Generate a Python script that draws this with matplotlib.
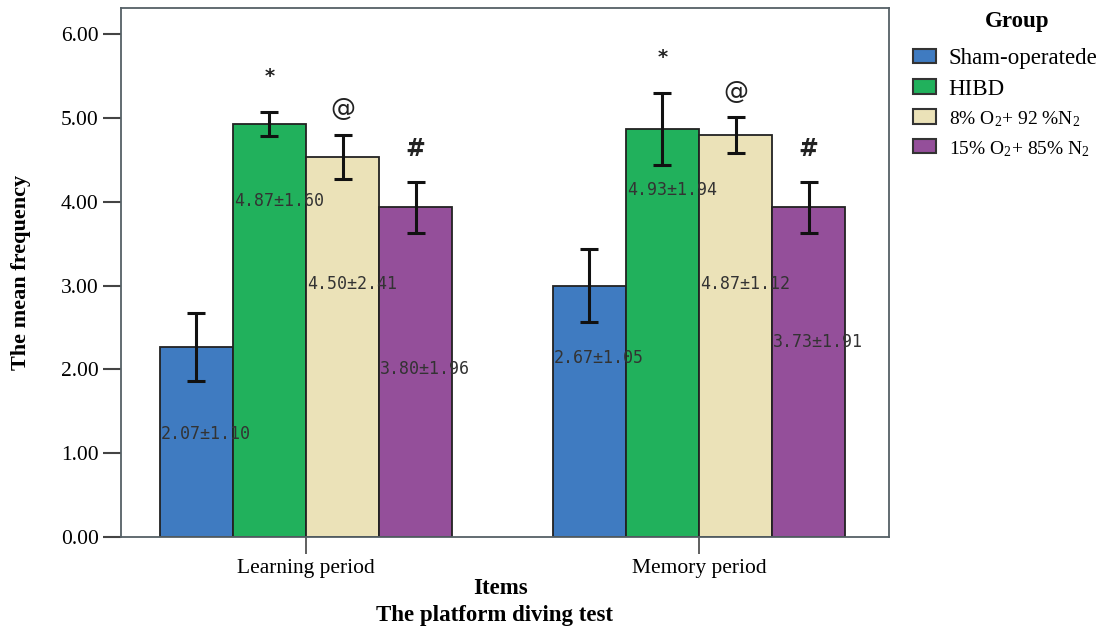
import matplotlib
matplotlib.use("Agg")
import matplotlib.pyplot as plt
from matplotlib.patches import Patch
import numpy as np

# ---- data ----
periods = ["Learning period", "Memory period"]
groups = ["Sham-operatede", "HIBD", "8% O$_2$+ 92 %N$_2$", "15% O$_2$+ 85% N$_2$"]
means = {
    "Sham-operatede": [2.27, 3.00],
    "HIBD": [4.93, 4.87],
    "8%": [4.53, 4.80],
    "15%": [3.94, 3.94],
}
err_low = {
    "Sham-operatede": [1.86, 2.57],
    "HIBD": [4.79, 4.44],
    "8%": [4.27, 4.58],
    "15%": [3.63, 3.63],
}
err_high = {
    "Sham-operatede": [2.67, 3.44],
    "HIBD": [5.07, 5.30],
    "8%": [4.80, 5.01],
    "15%": [4.24, 4.24],
}
bar_texts = {
    "Sham-operatede": ["2.07\u00b11.10", "2.67\u00b11.05"],
    "HIBD": ["4.87\u00b11.60", "4.93\u00b11.94"],
    "8%": ["4.50\u00b12.41", "4.87\u00b11.12"],
    "15%": ["3.80\u00b11.96", "3.73\u00b11.91"],
}
sig_marks = ["", "*", "@", "#"]
yticks = [0, 1, 2, 3, 4, 5, 6]

# ---- layout constants ----
keys = ["Sham-operatede", "HIBD", "8%", "15%"]
colors = ["#3f7bc1", "#21b15c", "#ebe2b8", "#944f9a"]
label_y = {
    "Sham-operatede": [1.23, 2.14],
    "HIBD": [4.01, 4.14],
    "8%": [3.02, 3.02],
    "15%": [2.00, 2.33],
}
mark_offset = [0, 27, 20, 25]  # points above error top (to glyph centre)
mark_size = [0, 14, 18, 17]
mark_weight = ['bold', 'bold', 'normal', 'bold']

plt.rcParams['mathtext.default'] = 'regular'
serif = ['Liberation Serif', 'DejaVu Serif']

fig = plt.figure(figsize=(11.03, 6.31), dpi=100)
ax = fig.add_axes([121/1103, 1-537/631, (889-121)/1103, (537-8)/631])

x = np.arange(len(periods))
w = 0.186
for i, k in enumerate(keys):
    xs = x + (i - 1.5) * w
    m = np.array(means[k])
    lo = m - np.array(err_low[k])
    hi = np.array(err_high[k]) - m
    ax.bar(xs, m, width=w, color=colors[i], edgecolor="#222222", linewidth=1.3, zorder=2)
    ax.errorbar(xs, m, yerr=[lo, hi], fmt='none', ecolor="#111111", elinewidth=2.2,
                capsize=6.5, capthick=2.2, zorder=3)
    for j in range(len(periods)):
        ax.text(xs[j] - w/2 + 0.003, label_y[k][j], bar_texts[k][j],
                family=['DejaVu Sans Mono'], fontsize=12,
                color="#333333", ha='left', va='center', zorder=4)
        if sig_marks[i]:
            ax.annotate(sig_marks[i], (xs[j], err_high[k][j]), xytext=(0, mark_offset[i]),
                        textcoords='offset points', ha='center', va='center_baseline',
                        fontsize=mark_size[i], fontweight=mark_weight[i], color="#222222",
                        family=['DejaVu Sans'])

ax.set_ylim(0, (537-8)/83.8)
ax.set_xlim((121-306)/393, (889-306)/393)
ax.set_yticks(yticks)
ax.set_yticklabels([f"{v:.2f}" for v in yticks], family=serif, fontsize=15.5)
ax.set_xticks(x)
ax.set_xticklabels(periods, family=serif, fontsize=15.5)
ax.tick_params(axis='y', length=13, width=1.5, color="#444444", pad=3)
ax.tick_params(axis='x', length=12, width=1.2, color="#444444", pad=4)
for s in ax.spines.values():
    s.set_color("#556066")
    s.set_linewidth(1.3)

ax.set_ylabel("The mean frequency", family=serif, fontsize=16, fontweight='bold')
ax.yaxis.set_label_coords((31-121)/768, 0.5)
fig.text(500/1103, 1-589/631, "Items", family=serif, fontsize=16.5,
         fontweight='bold', ha='center', va='center')
fig.text(495/1103, 1-616/631, "The platform diving test", family=serif, fontsize=16.5,
         fontweight='bold', ha='center', va='center')

handles = [Patch(facecolor=colors[i], edgecolor="#333333", linewidth=1.5) for i in range(4)]
fig.text(1017/1103, 1-22/631, "Group", family=serif, fontsize=16.5, fontweight='bold',
         ha='center', va='center')
leg = fig.legend(handles, groups, loc='upper left', bbox_to_anchor=(913/1103, 1-48/631),
                 frameon=False, prop={'family': serif, 'size': 16.5},
                 handlelength=1.0, handleheight=0.6, handletextpad=0.55, labelspacing=0.42,
                 borderaxespad=0, borderpad=0)
for t in leg.get_texts()[2:]:
    t.set_fontsize(14)

fig.savefig("out.png", dpi=100)
